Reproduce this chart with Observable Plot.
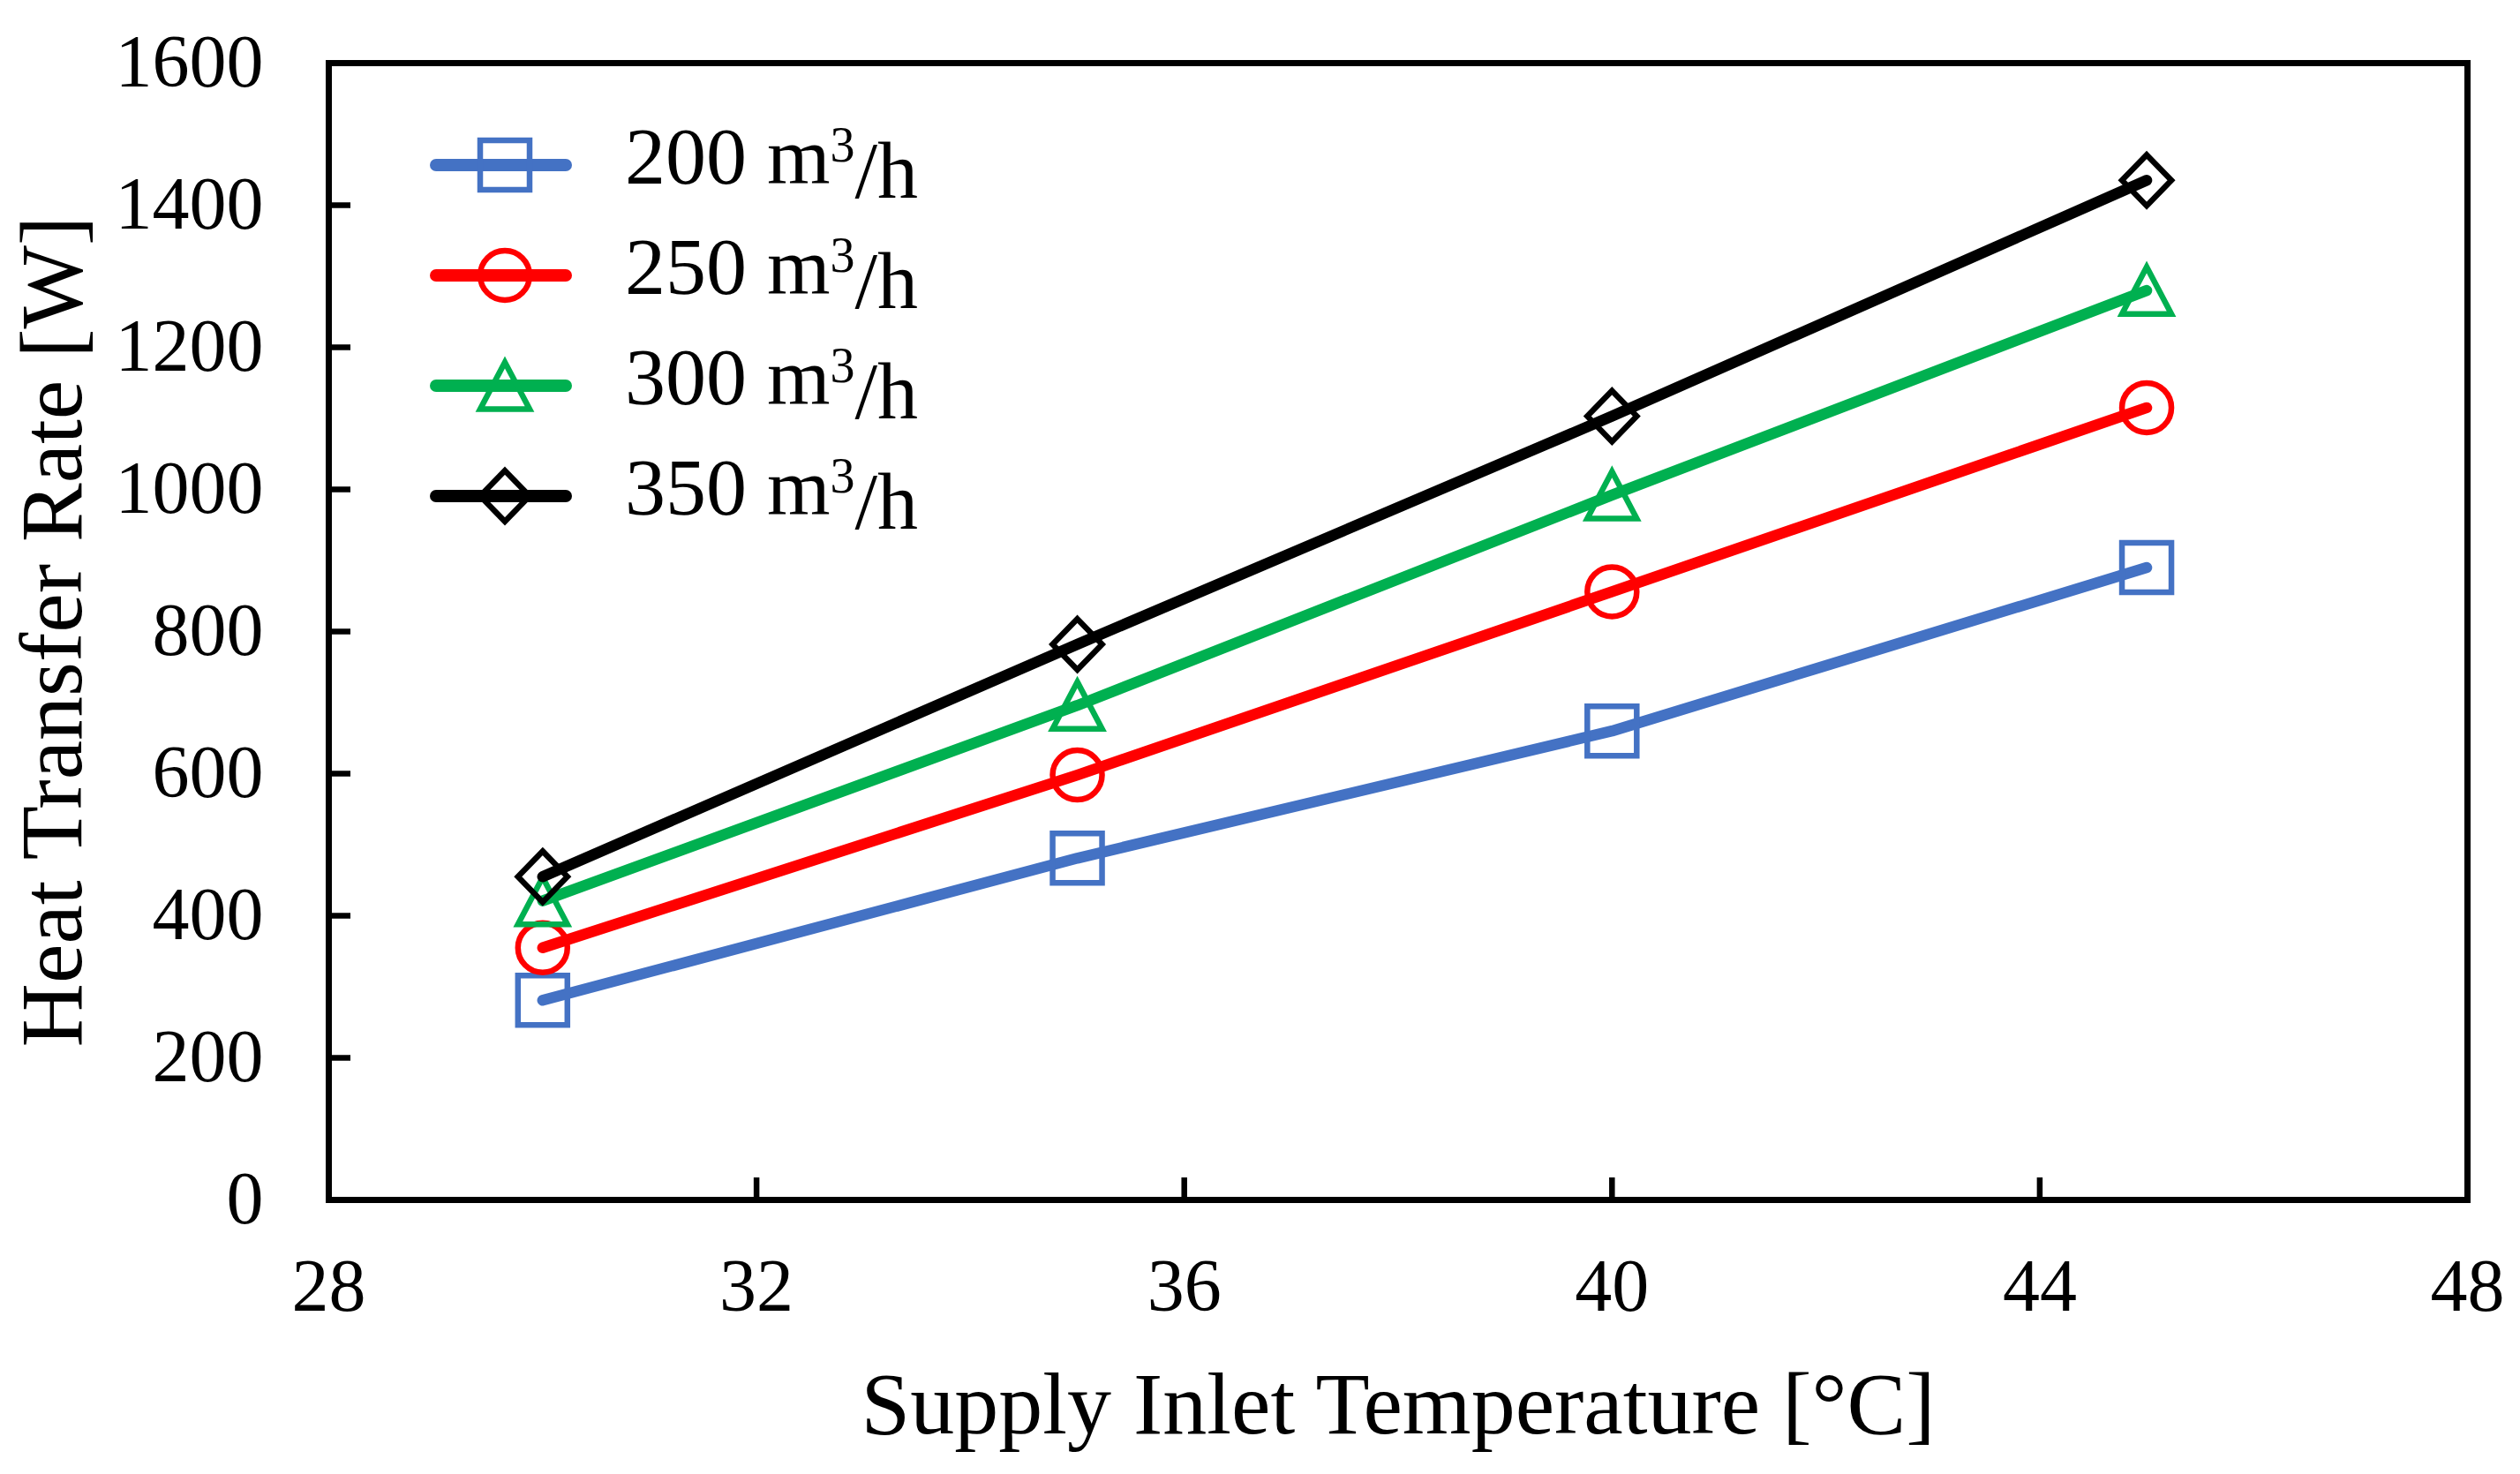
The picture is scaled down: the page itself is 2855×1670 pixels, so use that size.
<!DOCTYPE html>
<html>
<head>
<meta charset="utf-8">
<script src="https://cdn.jsdelivr.net/npm/d3@7"></script>
<script src="https://cdn.jsdelivr.net/npm/@observablehq/plot@0.6"></script>
<style>
  html, body { margin: 0; padding: 0; background: #fff; }
  #wrap { position: relative; width: 2855px; height: 1670px; }
  #legend { position: absolute; left: 0; top: 0; pointer-events: none; }
</style>
</head>
<body>
<div id="wrap"></div>
<script>
// ---- data ----
const temps = [30, 35, 40, 45];
const flows = ["200", "250", "300", "350"];
const q200 = [281, 481, 660, 890];
const q250 = [355, 598, 856, 1115];
const q300 = [421, 696, 992, 1280];
const q350 = [455, 782, 1103, 1435];
const xTicks = [28, 32, 36, 40, 44, 48];
const yTicks = [0, 200, 400, 600, 800, 1000, 1200, 1400, 1600];
const xTitle = "Supply Inlet Temperature [°C]";
const yTitle = "Heat Transfer Rate [W]";

// ---- styles ----
const colors = ["#4472C4", "#FF0000", "#00B050", "#000000"];
const values = [q200, q250, q300, q350];
const R = 28;
const sym = {
  square: {draw(ctx, size) { const r = Math.sqrt(size / Math.PI); ctx.moveTo(-r, -r); ctx.lineTo(r, -r); ctx.lineTo(r, r); ctx.lineTo(-r, r); ctx.closePath(); }},
  circle: {draw(ctx, size) { const r = Math.sqrt(size / Math.PI); ctx.moveTo(r, 0); ctx.arc(0, 0, r, 0, 2 * Math.PI); ctx.closePath(); }},
  triangle: {draw(ctx, size) { const r = Math.sqrt(size / Math.PI); ctx.moveTo(0, -r * 0.95); ctx.lineTo(r, r * 0.95); ctx.lineTo(-r, r * 0.95); ctx.closePath(); }},
  diamond: {draw(ctx, size) { const r = Math.sqrt(size / Math.PI); ctx.moveTo(0, -r * 1.03); ctx.lineTo(r, 0); ctx.lineTo(0, r * 1.03); ctx.lineTo(-r, 0); ctx.closePath(); }}
};
const symbols = [sym.square, sym.circle, sym.triangle, sym.diamond];

const series = flows.map((f, i) => temps.map((t, j) => ({flow: f, t, q: values[i][j]})));

const font = "'Liberation Serif', 'Times New Roman', serif";

const marks = [];
series.forEach((d, i) => {
  marks.push(Plot.line(d, {x: "t", y: "q", stroke: colors[i], strokeWidth: 12.5, strokeLinecap: "round", strokeLinejoin: "round"}));
  marks.push(Plot.dot(d, {x: "t", y: "q", r: R, symbol: symbols[i], stroke: colors[i], fill: "none", strokeWidth: 6.5}));
});

const chart = Plot.plot({
  width: 2855,
  height: 1670,
  marginLeft: 372,
  marginRight: 60,
  marginTop: 71,
  marginBottom: 311,
  style: {fontFamily: font, background: "white", color: "black"},
  x: {domain: [28, 48]},
  y: {domain: [0, 1600]},
  marks: [
    Plot.axisX(xTicks, {tickSize: 0, tickPadding: 66, fontSize: 84, label: null, tickFormat: d => String(d)}),
    Plot.axisY(yTicks, {tickSize: 0, tickPadding: 74, fontSize: 84, label: null, tickFormat: d => String(d)}),
    Plot.ruleX(xTicks, {x: d => d, y1: 0, y2: 0, insetTop: -25, strokeWidth: 6.5}),
    Plot.ruleY(yTicks, {y: d => d, x1: 28, x2: 28, insetRight: -25, strokeWidth: 6.5}),
    ...marks,
    Plot.frame({stroke: "black", strokeWidth: 7}),
    Plot.text([xTitle], {text: d => d, frameAnchor: "bottom", textAnchor: "middle", dy: 232, fontSize: 100, lineAnchor: "middle"}),
    Plot.text([yTitle], {text: d => d, frameAnchor: "left", textAnchor: "middle", rotate: -90, dx: -313, fontSize: 100, lineAnchor: "middle"})
  ]
});

const wrap = document.getElementById("wrap");
wrap.appendChild(chart);

// ---- legend (overlay) ----
const legend = d3.select(wrap).append("svg")
  .attr("id", "legend")
  .attr("width", 2855).attr("height", 1670)
  .style("font-family", font);
flows.forEach((f, i) => {
  const y = 187 + i * 125;
  const g = legend.append("g");
  g.append("line").attr("x1", 494).attr("x2", 641).attr("y1", y).attr("y2", y)
    .attr("stroke", colors[i]).attr("stroke-width", 14).attr("stroke-linecap", "round");
  const p = d3.path();
  symbols[i].draw(p, Math.PI * R * R);
  g.append("path").attr("d", p.toString()).attr("transform", `translate(572,${y})`)
    .attr("fill", "none").attr("stroke", colors[i]).attr("stroke-width", 6.5);
  const t = g.append("text").attr("x", 708).attr("y", y + 21).attr("font-size", 92).attr("fill", "black");
  t.append("tspan").text(f + " m");
  t.append("tspan").attr("dy", "-0.45em").attr("font-size", 56).text("3");
  t.append("tspan").attr("dy", "0.45em").text("/h");
});
</script>
</body>
</html>
